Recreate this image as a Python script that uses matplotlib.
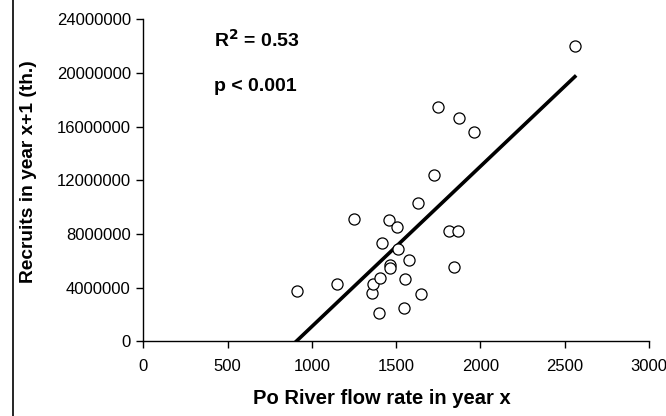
import numpy as np
import matplotlib.pyplot as plt
from matplotlib.lines import Line2D

plt.rcParams['font.family'] = ['Liberation Sans', 'DejaVu Sans']

# Po River flow rate (year x) and recruits (year x+1, thousands)
flow = [910, 1151, 1252, 1355, 1361, 1400, 1404, 1418, 1458, 1465,
        1464, 1507, 1513, 1547, 1551, 1576, 1628, 1646, 1725, 1748,
        1813, 1845, 1865, 1873, 1960, 2560]
recruits = [3730000, 4250000, 9090000, 3620000, 4250000, 2090000, 4740000,
            7300000, 9040000, 5690000, 5450000, 8500000, 6880000, 2500000,
            4640000, 6060000, 10280000, 3530000, 12400000, 17440000,
            8220000, 5520000, 8220000, 16640000, 15580000, 22000000]

x_ticks = [0, 500, 1000, 1500, 2000, 2500, 3000]
y_ticks = [0, 4000000, 8000000, 12000000, 16000000, 20000000, 24000000]

W, H = 666, 416
fig = plt.figure(figsize=(W / 100, H / 100), dpi=100)
ax = fig.add_axes([0.2152, 0.1796, 0.7593, 0.774])

ax.plot(flow, recruits, 'o', ms=8, mfc='white', mec='black', mew=0.9,
        linestyle='none', zorder=3)

# least-squares trend line, drawn from the x-intercept to the largest flow
slope, intercept = np.polyfit(flow, recruits, 1)
x0 = -intercept / slope
xs = np.array([x0, max(flow)])
ax.plot(xs, slope * xs + intercept, color='black', lw=2.6, zorder=2)

ax.set_xlim(0, 3000)
ax.set_ylim(0, 24000000)
ax.set_xticks(x_ticks)
ax.set_yticks(y_ticks)
ax.set_xticklabels([str(v) for v in x_ticks])
ax.set_yticklabels([str(v) for v in y_ticks])
ax.tick_params(direction='out', length=5, width=1, labelsize=12,
               colors='black', pad=4)
ax.tick_params(axis='x', pad=8)
for side in ('top', 'right'):
    ax.spines[side].set_visible(False)
for side in ('left', 'bottom'):
    ax.spines[side].set_linewidth(1)

# axis titles placed in figure pixels
fig.text(382 / W, 1 - 398 / H, 'Po River flow rate in year x', fontsize=14.5,
         fontweight='bold', ha='center', va='center')
fig.text(29 / W, 1 - 172 / H, 'Recruits in year x+1 (th.)', fontsize=13.8,
         fontweight='bold', ha='center', va='center', rotation=90)

fig.text(214 / W, 1 - 47 / H, r'R$^\mathbf{2}$ = 0.53', fontsize=14,
         fontweight='bold', va='baseline')
fig.text(214 / W, 1 - 91 / H, 'p < 0.001', fontsize=14,
         fontweight='bold', va='baseline')

fig.add_artist(Line2D([13 / W, 13 / W], [0, 1], color='black', lw=1.2))

fig.savefig('out.png', dpi=100)
